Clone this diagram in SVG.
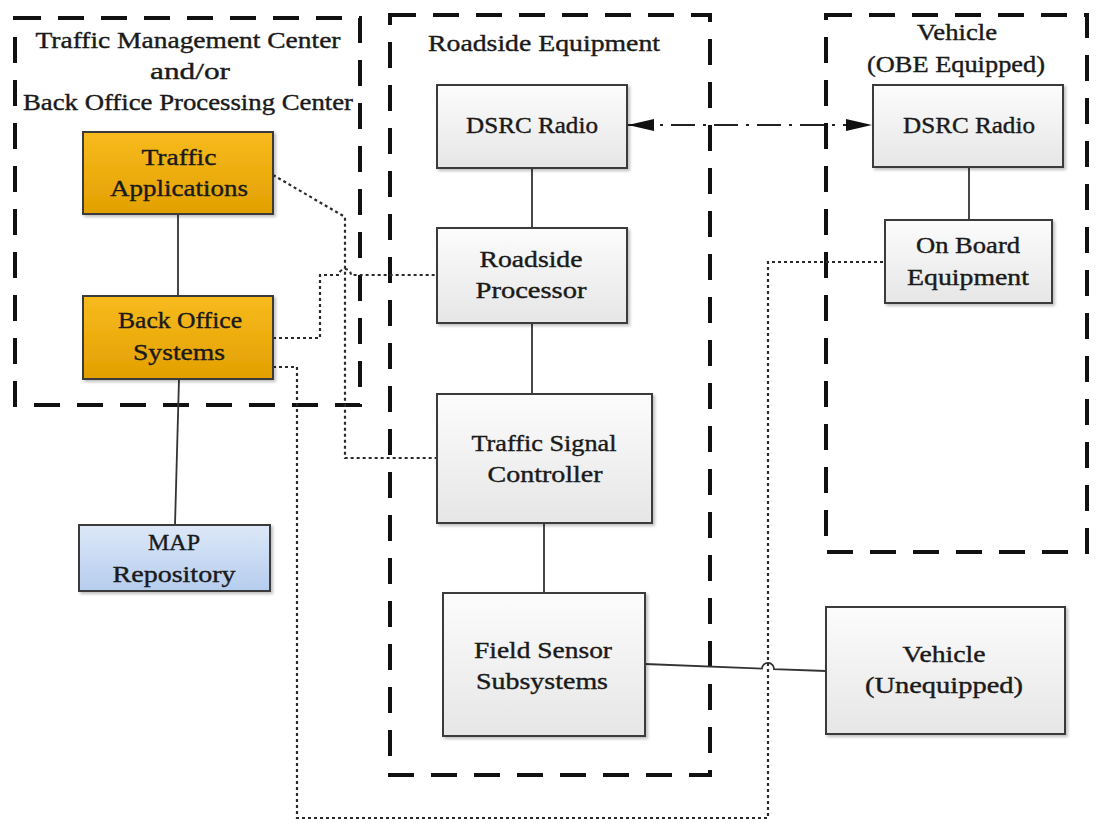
<svg xmlns="http://www.w3.org/2000/svg" width="1119" height="835" viewBox="0 0 1119 835">
<style>
  text { font-family: "Liberation Serif", "DejaVu Serif", serif; font-size: 24px; fill: #1a1a1a; stroke: #1a1a1a; stroke-width: 0.4; text-anchor: middle; }
  .container { fill: none; stroke: #111; stroke-width: 4; stroke-dasharray: 26 17; }
  .box { stroke: #3a3a3a; stroke-width: 2; filter: url(#shadow); }
  .gray { fill: url(#gGray); }
  .orange { fill: url(#gOrange); }
  .blue { fill: url(#gBlue); }
  .solid { fill: none; stroke: #333; stroke-width: 1.8; }
  .dotted { fill: none; stroke: #2a2a2a; stroke-width: 2.2; stroke-dasharray: 3 3; }
  .dashdot { fill: none; stroke: #222; stroke-width: 2; stroke-dasharray: 24 8 3 8; }
</style>
<defs>
  <linearGradient id="gGray" x1="0" y1="0" x2="0" y2="1">
    <stop offset="0" stop-color="#fcfcfc"/>
    <stop offset="1" stop-color="#e6e6e6"/>
  </linearGradient>
  <linearGradient id="gOrange" x1="0" y1="0" x2="0" y2="1">
    <stop offset="0" stop-color="#f8bb1e"/>
    <stop offset="1" stop-color="#e2a000"/>
  </linearGradient>
  <linearGradient id="gBlue" x1="0" y1="0" x2="0" y2="1">
    <stop offset="0" stop-color="#dde8f8"/>
    <stop offset="1" stop-color="#b5cdee"/>
  </linearGradient>
  <filter id="shadow" x="-10%" y="-10%" width="130%" height="130%">
    <feDropShadow dx="2" dy="2" stdDeviation="1.5" flood-color="#000" flood-opacity="0.25"/>
  </filter>
  <marker id="arrow" viewBox="0 0 26 12" refX="26" refY="6" markerWidth="26" markerHeight="12" markerUnits="userSpaceOnUse" orient="auto-start-reverse">
    <path d="M0,0 L26,6 L0,12 Z" fill="#111"/>
  </marker>
</defs>
<rect width="1119" height="835" fill="#ffffff"/>

<g id="containers">
  <g id="tmc-container">
    <rect class="container" x="15" y="18" width="345" height="387"/>
    <text x="188" y="48" textLength="305" lengthAdjust="spacingAndGlyphs">Traffic Management Center</text>
    <text x="190" y="79" textLength="80" lengthAdjust="spacingAndGlyphs">and/or</text>
    <text x="188" y="110" textLength="330" lengthAdjust="spacingAndGlyphs">Back Office Processing Center</text>
  </g>
  <g id="rse-container">
    <rect class="container" x="390" y="15" width="320" height="760"/>
    <text x="544" y="51" textLength="232" lengthAdjust="spacingAndGlyphs">Roadside Equipment</text>
  </g>
  <g id="vehicle-container">
    <rect class="container" x="826" y="15" width="261" height="537"/>
    <text x="957" y="40" textLength="80" lengthAdjust="spacingAndGlyphs">Vehicle</text>
    <text x="956" y="72" textLength="178" lengthAdjust="spacingAndGlyphs">(OBE Equipped)</text>
  </g>
</g>

<g id="connectors">
  <line class="solid" x1="178" y1="214" x2="178" y2="296"/>
  <line class="solid" x1="179" y1="379" x2="175" y2="525"/>
  <line class="solid" x1="532" y1="168" x2="532" y2="228"/>
  <line class="solid" x1="532" y1="323" x2="532" y2="394"/>
  <line class="solid" x1="544" y1="523" x2="544" y2="593"/>
  <line class="solid" x1="969" y1="167" x2="969" y2="220"/>
  <path class="solid" d="M645,664 L762,668.6 A6,6 0 0 1 774,669.1 L826,671"/>
  <path class="dotted" d="M273,175 L345,217 V458 H437"/>
  <path class="dotted" d="M273,338 H320 V275 H339 A6,6 0 0 1 351,275 H437"/>
  <path class="dotted" d="M273,367 H297 V818 H768 V262 H885"/>
  <line class="dashdot" x1="628" y1="125" x2="872" y2="125" marker-start="url(#arrow)" marker-end="url(#arrow)"/>
</g>

<g id="traffic-applications">
  <rect class="box orange" x="83" y="132" width="190" height="82"/>
  <text x="179" y="165" textLength="75" lengthAdjust="spacingAndGlyphs">Traffic</text>
  <text x="179" y="196" textLength="138" lengthAdjust="spacingAndGlyphs">Applications</text>
</g>
<g id="back-office-systems">
  <rect class="box orange" x="83" y="296" width="190" height="83"/>
  <text x="180" y="328" textLength="124" lengthAdjust="spacingAndGlyphs">Back Office</text>
  <text x="179" y="360" textLength="92" lengthAdjust="spacingAndGlyphs">Systems</text>
</g>
<g id="map-repository">
  <rect class="box blue" x="79" y="525" width="191" height="66"/>
  <text x="174" y="550" textLength="52" lengthAdjust="spacingAndGlyphs">MAP</text>
  <text x="174" y="582" textLength="123" lengthAdjust="spacingAndGlyphs">Repository</text>
</g>
<g id="rse-dsrc-radio">
  <rect class="box gray" x="437" y="85" width="190" height="83"/>
  <text x="532" y="133" textLength="132" lengthAdjust="spacingAndGlyphs">DSRC Radio</text>
</g>
<g id="roadside-processor">
  <rect class="box gray" x="437" y="228" width="190" height="95"/>
  <text x="531" y="267" textLength="103" lengthAdjust="spacingAndGlyphs">Roadside</text>
  <text x="531" y="298" textLength="111" lengthAdjust="spacingAndGlyphs">Processor</text>
</g>
<g id="traffic-signal-controller">
  <rect class="box gray" x="437" y="394" width="215" height="129"/>
  <text x="544" y="451" textLength="145" lengthAdjust="spacingAndGlyphs">Traffic Signal</text>
  <text x="545" y="482" textLength="115" lengthAdjust="spacingAndGlyphs">Controller</text>
</g>
<g id="field-sensor-subsystems">
  <rect class="box gray" x="443" y="593" width="202" height="143"/>
  <text x="543" y="658" textLength="138" lengthAdjust="spacingAndGlyphs">Field Sensor</text>
  <text x="542" y="689" textLength="132" lengthAdjust="spacingAndGlyphs">Subsystems</text>
</g>
<g id="vehicle-dsrc-radio">
  <rect class="box gray" x="873" y="85" width="190" height="82"/>
  <text x="969" y="133" textLength="132" lengthAdjust="spacingAndGlyphs">DSRC Radio</text>
</g>
<g id="on-board-equipment">
  <rect class="box gray" x="885" y="220" width="167" height="83"/>
  <text x="968" y="253" textLength="104" lengthAdjust="spacingAndGlyphs">On Board</text>
  <text x="968" y="285" textLength="122" lengthAdjust="spacingAndGlyphs">Equipment</text>
</g>
<g id="vehicle-unequipped">
  <rect class="box gray" x="826" y="607" width="239" height="127"/>
  <text x="944" y="662" textLength="83" lengthAdjust="spacingAndGlyphs">Vehicle</text>
  <text x="944" y="693" textLength="158" lengthAdjust="spacingAndGlyphs">(Unequipped)</text>
</g>
</svg>
